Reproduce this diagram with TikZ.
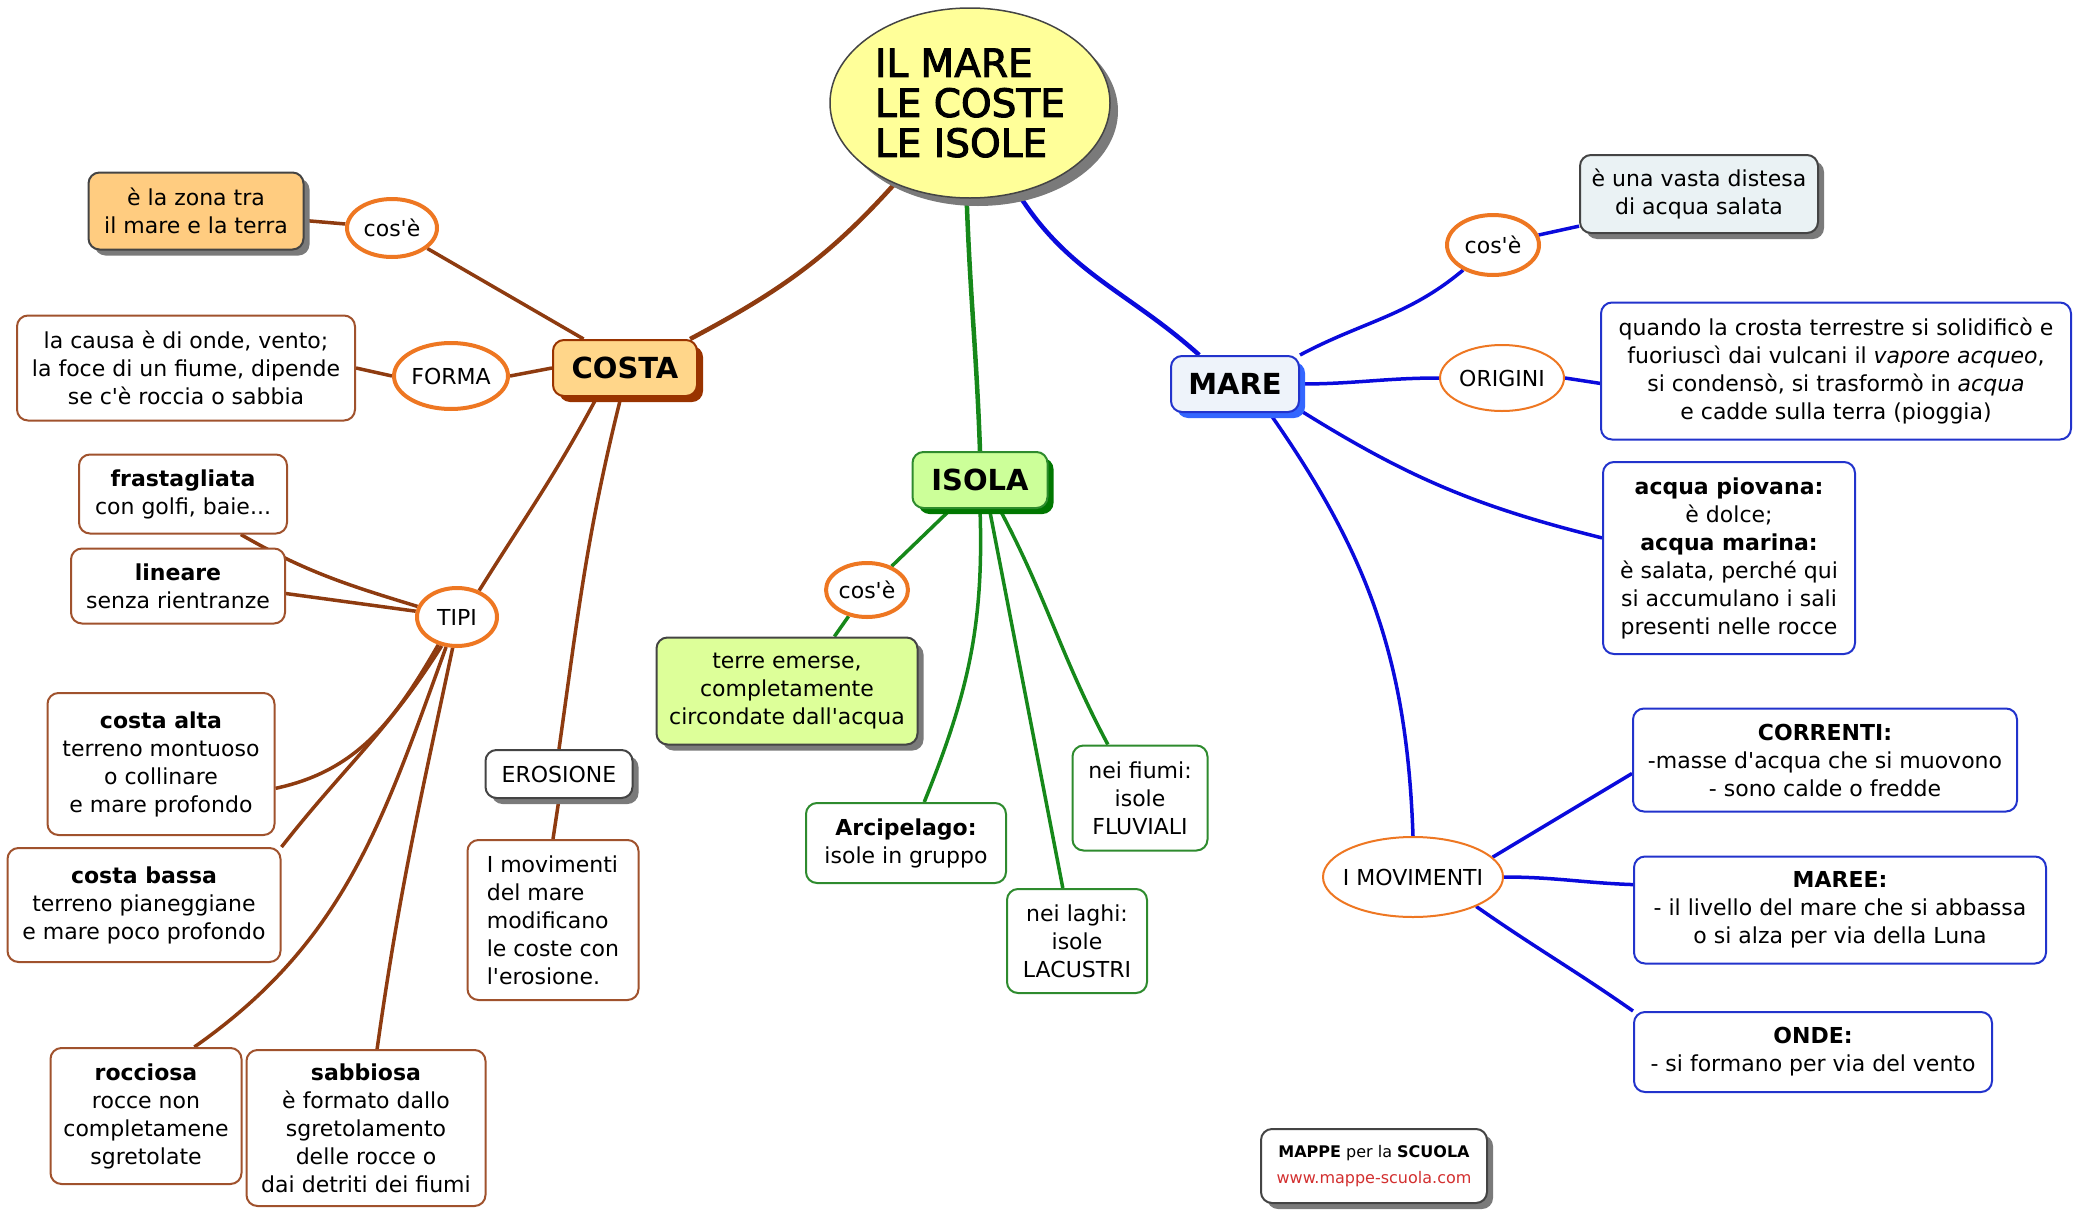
\documentclass[tikz,border=0pt]{standalone}
\usepackage{fontspec}
\setmainfont{DejaVu Sans}[Ligatures=TeXOff]
\newfontfamily\titlefont{DejaVu Sans}[FakeBold=2.5]
\usetikzlibrary{shapes.geometric,shadows}
\definecolor{linebrown}{HTML}{8E3B10}
\definecolor{boxbrown}{HTML}{A0522D}
\definecolor{costafill}{HTML}{FFD68A}
\definecolor{costashadow}{HTML}{993300}
\definecolor{zonafill}{HTML}{FFCC80}
\definecolor{ovalorange}{HTML}{EE7722}
\definecolor{linegreen}{HTML}{16881A}
\definecolor{boxgreen}{HTML}{2E8B2E}
\definecolor{isolafill}{HTML}{CCFF99}
\definecolor{isolashadow}{HTML}{007700}
\definecolor{terrefill}{HTML}{DDFF99}
\definecolor{lineblue}{HTML}{0A0ADC}
\definecolor{boxblue}{HTML}{2233CC}
\definecolor{marefill}{HTML}{EEF3FA}
\definecolor{mareshadow}{HTML}{3366FF}
\definecolor{vastafill}{HTML}{EAF2F4}
\definecolor{shgray}{HTML}{7A7A7A}
\definecolor{darkborder}{HTML}{444444}
\definecolor{titlefill}{HTML}{FFFF99}
\definecolor{logored}{HTML}{D32F2F}
\pgfdeclarelayer{bg}
\pgfsetlayers{bg,main}
\begin{document}
\begin{tikzpicture}[x=1pt,y=1pt,
  font=\fontsize{22}{28}\selectfont,
  sz/.style 2 args={minimum width=#1pt, minimum height=#2pt},
  box/.style={rectangle, rounded corners=11pt, line width=2pt, align=center, fill=white, inner sep=0pt},
  brownbox/.style={box, draw=boxbrown},
  greenbox/.style={box, draw=boxgreen},
  bluebox/.style={box, draw=boxblue},
  oval/.style={ellipse, draw=ovalorange, line width=4pt, fill=white, inner sep=0pt},
  thinoval/.style={ellipse, draw=ovalorange, line width=2pt, fill=white, inner sep=0pt},
  shad/.style={drop shadow={shadow xshift=6pt, shadow yshift=-6pt, fill=#1, opacity=1}},
  mainlabel/.style={box, line width=2pt, font=\bfseries\fontsize{29}{32}\selectfont},
  bl/.style={draw=linebrown, line width=3.5pt},
  gl/.style={draw=linegreen, line width=3.5pt},
  ul/.style={draw=lineblue, line width=3.5pt},
]
\useasboundingbox (0,0) rectangle (2075,-1210);

% ---- central
\node[ellipse, draw=darkborder, line width=1.5pt, fill=titlefill, sz={280}{190}, inner sep=0pt,
  align=left, font=\titlefont\fontsize{39}{40}\selectfont,
  drop shadow={shadow xshift=8pt, shadow yshift=-8pt, fill=shgray, opacity=1}] (title) at (970,-103)
  {IL MARE\\LE COSTE\\LE ISOLE};

% ---- COSTA branch
\node[mainlabel, draw=costashadow, fill=costafill, sz={144}{56}, shad=costashadow] (costa) at (625,-368) {COSTA};
\node[oval, sz={90}{58}] (cosecosta) at (392,-228) {cos'è};
\node[box, draw=darkborder, fill=zonafill, sz={215}{77}, shad=shgray] (zona) at (196,-211) {è la zona tra\\il mare e la terra};
\node[oval, sz={114}{66}] (forma) at (451,-376) {FORMA};
\node[brownbox, sz={338}{105}] (formabox) at (186,-368) {la causa è di onde, vento;\\la foce di un fiume, dipende\\se c'è roccia o sabbia};
\node[oval, sz={80}{58}] (tipi) at (457,-617) {TIPI};
\node[brownbox, sz={208}{79}] (frast) at (183,-494) {\textbf{frastagliata}\\con golfi, baie...};
\node[brownbox, sz={214}{75}] (lineare) at (178,-586) {\textbf{lineare}\\senza rientranze};
\node[brownbox, sz={227}{142}] (alta) at (161,-764) {\textbf{costa alta}\\terreno montuoso\\o collinare\\e mare profondo};
\node[brownbox, sz={273}{114}] (bassa) at (144,-905) {\textbf{costa bassa}\\terreno pianeggiane\\e mare poco profondo};
\node[brownbox, sz={191}{136}] (rocciosa) at (146,-1116) {\textbf{rocciosa}\\rocce non\\completamene\\sgretolate};
\node[brownbox, sz={239}{156}] (sabbiosa) at (366,-1128) {\textbf{sabbiosa}\\è formato dallo\\sgretolamento\\delle rocce o\\dai detriti dei fiumi};
\node[box, draw=darkborder, sz={147}{48}, shad=shgray] (erosione) at (559,-774) {EROSIONE};
\node[brownbox, sz={171}{160}, align=left] (movbox) at (553,-920) {I movimenti\\del mare\\modificano\\le coste con\\l'erosione.};

% ---- ISOLA branch
\node[mainlabel, draw=boxgreen, fill=isolafill, sz={135}{56}, shad=isolashadow] (isola) at (980,-480) {ISOLA};
\node[oval, sz={82}{54}] (coseisola) at (867,-590) {cos'è};
\node[box, draw=darkborder, fill=terrefill, sz={261}{107}, shad=shgray] (terre) at (787,-691) {terre emerse,\\completamente\\circondate dall'acqua};
\node[greenbox, sz={200}{80}] (arcip) at (906,-843) {\textbf{Arcipelago:}\\isole in gruppo};
\node[greenbox, sz={140}{104}] (laghi) at (1077,-941) {nei laghi:\\isole\\LACUSTRI};
\node[greenbox, sz={135}{105}] (fiumi) at (1140,-798) {nei fiumi:\\isole\\FLUVIALI};

% ---- MARE branch
\node[mainlabel, draw=boxblue, fill=marefill, sz={128}{56}, shad=mareshadow] (mare) at (1235,-384) {MARE};
\node[oval, sz={92}{60}] (cosemare) at (1493,-245) {cos'è};
\node[box, draw=darkborder, fill=vastafill, sz={238}{78}, shad=shgray] (vasta) at (1699,-194) {è una vasta distesa\\di acqua salata};
\node[thinoval, sz={124}{66}] (origini) at (1502,-378) {ORIGINI};
\node[bluebox, sz={470}{137}] (quando) at (1836,-371) {quando la crosta terrestre si solidificò e\\fuoriuscì dai vulcani il \textit{vapore acqueo},\\si condensò, si trasformò in \textit{acqua}\\e cadde sulla terra (pioggia)};
\node[bluebox, sz={252}{192}] (piovana) at (1729,-558) {\textbf{acqua piovana:}\\è dolce;\\\textbf{acqua marina:}\\è salata, perché qui\\si accumulano i sali\\presenti nelle rocce};
\node[thinoval, sz={180}{80}, inner xsep=-8pt] (movimenti) at (1413,-877) {I MOVIMENTI};
\node[bluebox, sz={384}{103}] (correnti) at (1825,-760) {\textbf{CORRENTI:}\\-masse d'acqua che si muovono\\- sono calde o fredde};
\node[bluebox, sz={412}{107}] (maree) at (1840,-910) {\textbf{MAREE:}\\- il livello del mare che si abbassa\\o si alza per via della Luna};
\node[bluebox, sz={358}{80}] (onde) at (1813,-1052) {\textbf{ONDE:}\\- si formano per via del vento};

% ---- logo
\node[box, draw=darkborder, sz={226}{74}, shad=shgray, font=\fontsize{16}{26}\selectfont] (logo) at (1374,-1166)
  {\textbf{MAPPE} per la \textbf{SCUOLA}\\\textcolor{logored}{www.mappe-scuola.com}};

% ---- connectors
\begin{pgfonlayer}{bg}
\draw[bl, line width=4.5pt] (title.227) to[out=228,in=28] (costa.24);
\draw[gl, line width=4.5pt] (title.268) to[out=-88,in=92] (isola.north);
\draw[ul, line width=4.5pt] (title.-62) to[out=-58,in=138] (mare.141);

\draw[bl] (costa.145) -- (cosecosta);
\draw[bl] (cosecosta) -- (zona.-5);
\draw[bl] (costa.west) -- (forma.east);
\draw[bl] (forma.west) -- (formabox.east);
\draw[bl] (costa.226) to[out=242,in=58] (tipi.50);
\draw[bl] (costa.262) to[out=256,in=82] (erosione.north);
\draw[bl] (erosione.south) -- (movbox.north);

\draw[bl] (tipi.165) to[out=163,in=-30] (frast.-35);
\draw[bl] (tipi.172) -- (lineare.-4);
\draw[bl] (tipi.236) to[out=240,in=12] (alta.-12);
\draw[bl] (tipi.242) to[out=238,in=52] (bassa.north east);
\draw[bl] (tipi.250) to[out=250,in=35] (rocciosa.55);
\draw[bl] (tipi.262) to[out=258,in=82] (sabbiosa.82);

\draw[gl] (isola.225) -- (coseisola);
\draw[gl] (coseisola) -- (terre.49);
\draw[gl] (isola.south) to[out=-88,in=68] (arcip.66);
\draw[gl] (isola.-72) -- (laghi.105);
\draw[gl] (isola.-56) to[out=-62,in=118] (fiumi.121);

\draw[ul] (mare.north east) to[out=28,in=220] (cosemare);
\draw[ul] (cosemare) -- (vasta.195);
\draw[ul] (mare.east) to[out=0,in=180] (origini.west);
\draw[ul] (origini.east) -- (quando.183);
\draw[ul] (mare.-22) to[out=-32,in=166] (piovana.171);
\draw[ul] (mare.-40) to[out=-55,in=92] (movimenti.north);
\draw[ul] (movimenti.14) -- (correnti.184);
\draw[ul] (movimenti.east) to[out=0,in=178] (maree.173);
\draw[ul] (movimenti.-25) to[out=-35,in=145] (onde.north west);
\end{pgfonlayer}
\end{tikzpicture}
\end{document}
